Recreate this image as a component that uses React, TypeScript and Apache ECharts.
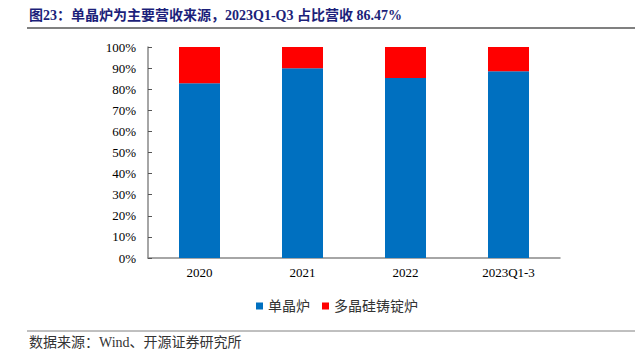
import React, { useEffect, useRef } from "react";
import * as echarts from "echarts";

const categories = ["2020", "2021", "2022", "2023Q1-3"];
const monoFurnace = [82.8, 89.9, 85.3, 88.5];
const polyFurnace = [17.2, 10.1, 14.7, 11.5];
const seriesNames = ["单晶炉", "多晶硅铸锭炉"];
const titleText = "图23：单晶炉为主要营收来源，2023Q1-Q3 占比营收 86.47%";
const sourceText = "数据来源：Wind、开源证券研究所";

const FONT = "'Liberation Serif', 'Times New Roman', 'Noto Sans CJK SC', serif";

export default function App() {
  const ref = useRef<HTMLDivElement>(null);
  useEffect(() => {
    if (!ref.current) return;
    const chart = echarts.init(ref.current, null, { renderer: "svg" });
    chart.setOption({
      animation: false,
      backgroundColor: "#ffffff",
      textStyle: { fontFamily: FONT },
      title: {
        text: titleText,
        left: 21,
        top: 0,
        padding: 0,
        textStyle: { fontFamily: FONT, fontSize: 14, fontWeight: "bold", color: "#1c1f7a" },
      },
      graphic: [
        { type: "line", shape: { x1: 19, y1: 20, x2: 643, y2: 20 }, style: { stroke: "#808080", lineWidth: 2 } },
        { type: "line", shape: { x1: 19, y1: 323, x2: 643, y2: 323 }, style: { stroke: "#808080", lineWidth: 1 } },
        {
          type: "text",
          left: 21,
          top: 327,
          style: { text: sourceText, fontFamily: FONT, fontSize: 14, fill: "#333333" },
        },
      ],
      legend: {
        data: seriesNames,
        left: 243,
        top: 286,
        itemWidth: 7,
        itemHeight: 7,
        itemGap: 12,
        icon: "rect",
        textStyle: { fontFamily: FONT, fontSize: 14, color: "#333333" },
      },
      grid: { left: 140, right: 75, top: 39, bottom: 91 },
      xAxis: {
        type: "category",
        data: categories,
        axisLine: { lineStyle: { color: "#898989", width: 1.5 } },
        axisTick: { inside: true, length: 4, lineStyle: { color: "#555555" } },
        axisLabel: { color: "#000000", fontSize: 13, fontFamily: FONT, margin: 8 },
      },
      yAxis: {
        type: "value",
        min: 0,
        max: 100,
        interval: 10,
        splitLine: { show: false },
        axisLine: { show: true, lineStyle: { color: "#898989", width: 1.5 } },
        axisTick: { show: true, inside: true, length: 4, lineStyle: { color: "#555555" } },
        axisLabel: { color: "#000000", fontSize: 13, fontFamily: FONT, margin: 12, formatter: "{value}%" },
      },
      series: [
        {
          name: seriesNames[0],
          type: "bar",
          stack: "total",
          barWidth: 41,
          data: monoFurnace,
          itemStyle: { color: "#0070C0" },
        },
        {
          name: seriesNames[1],
          type: "bar",
          stack: "total",
          barWidth: 41,
          data: polyFurnace,
          itemStyle: { color: "#FF0000" },
        },
      ],
    });
    return () => chart.dispose();
  }, []);
  return <div ref={ref} style={{ width: 627, height: 341 }} />;
}
